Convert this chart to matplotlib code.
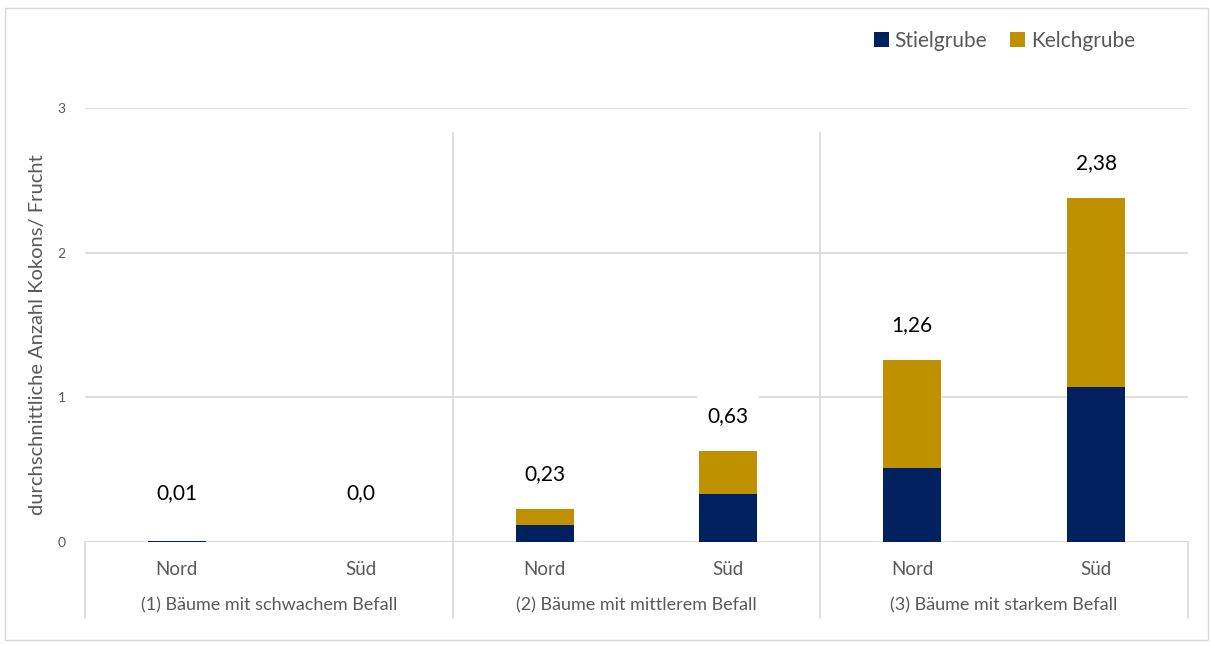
import numpy as np
import matplotlib
matplotlib.use("Agg")
import matplotlib.pyplot as plt
import matplotlib.transforms as mtransforms
from matplotlib.patches import Rectangle

plt.rcParams['font.family'] = ['Lato', 'DejaVu Sans']

# Data
positions = ["Nord", "Süd", "Nord", "Süd", "Nord", "Süd"]
groups = ["(1) Bäume mit schwachem Befall",
          "(2) Bäume mit mittlerem Befall",
          "(3) Bäume mit starkem Befall"]
stielgrube = [0.01, 0.0, 0.12, 0.33, 0.51, 1.07]
kelchgrube = [0.0, 0.0, 0.11, 0.30, 0.75, 1.31]
totals = [0.01, 0.0, 0.23, 0.63, 1.26, 2.38]
total_labels = ["0,01", "0,0", "0,23", "0,63", "1,26", "2,38"]

NAVY = "#002060"
GOLD = "#bf9000"
GRID = "#d9d9d9"
TXT = "#595959"

fig = plt.figure(figsize=(12.11, 6.46), dpi=100)
ax = fig.add_axes([0.0702, 0.161, 0.9108, 0.672])

x = np.arange(len(positions))
w = 0.315
ax.bar(x, stielgrube, width=w, color=NAVY, label="Stielgrube", zorder=3)
ax.bar(x, kelchgrube, width=w, bottom=stielgrube, color=GOLD, label="Kelchgrube", zorder=3)

# total labels above each stack
for xi, t, lab in zip(x, totals, total_labels):
    ax.annotate(lab, (xi, max(t, 0.1)), xytext=(0, 25), textcoords="offset points",
                ha="center", va="center", fontsize=15, color="black",
                bbox=dict(boxstyle="square,pad=0.5", fc="white", ec="none"),
                zorder=4)

ax.set_xlim(-0.5, len(positions) - 0.5)
ax.set_ylim(0, 3)
ax.set_yticks([0, 1, 2, 3])
ax.set_yticklabels(["0", "1", "2", "3"], fontsize=10, color=TXT)
ax.tick_params(axis="y", length=0, pad=14)
ax.set_xticks([])
ax.yaxis.grid(True, color=GRID, linewidth=1.2, zorder=0)
ax.set_axisbelow(True)
for s in ax.spines.values():
    s.set_visible(False)
ax.axhline(0, color=GRID, linewidth=1.2, zorder=2)

# multi-level category axis
trans = mtransforms.blended_transform_factory(ax.transData, ax.transAxes)
for xi, p in zip(x, positions):
    ax.text(xi, -0.063, p, transform=trans, ha="center", va="center",
            fontsize=13.5, color=TXT)
for gi, g in enumerate(groups):
    ax.text(2 * gi + 0.5, -0.147, g, transform=trans, ha="center", va="center",
            fontsize=13, color=TXT)
for xs in [-0.5, 5.5]:
    ax.plot([xs, xs], [0, -0.175], transform=trans, color=GRID, lw=1.2, clip_on=False)
for xs in [1.5, 3.5]:
    ax.plot([xs, xs], [0.942, -0.175], transform=trans, color=GRID, lw=1.2, clip_on=False)

fig.text(38 / 1211, 1 - 335 / 646, "durchschnittliche Anzahl Kokons/ Frucht",
         rotation=90, ha="center", va="center", fontsize=14.5, color=TXT)

fig.legend(loc="upper right", bbox_to_anchor=(1154 / 1211, 1 - 12 / 646), ncol=2,
           frameon=False, fontsize=15, labelcolor=TXT, handlelength=0.7,
           handleheight=0.7, handletextpad=0.3, columnspacing=1.1)

# outer chart frame
fig.patches.append(Rectangle((5 / 1211, 6 / 646), 1203 / 1211, 632 / 646,
                             transform=fig.transFigure, fill=False,
                             edgecolor=GRID, linewidth=1))

fig.savefig("out.png", dpi=100)
